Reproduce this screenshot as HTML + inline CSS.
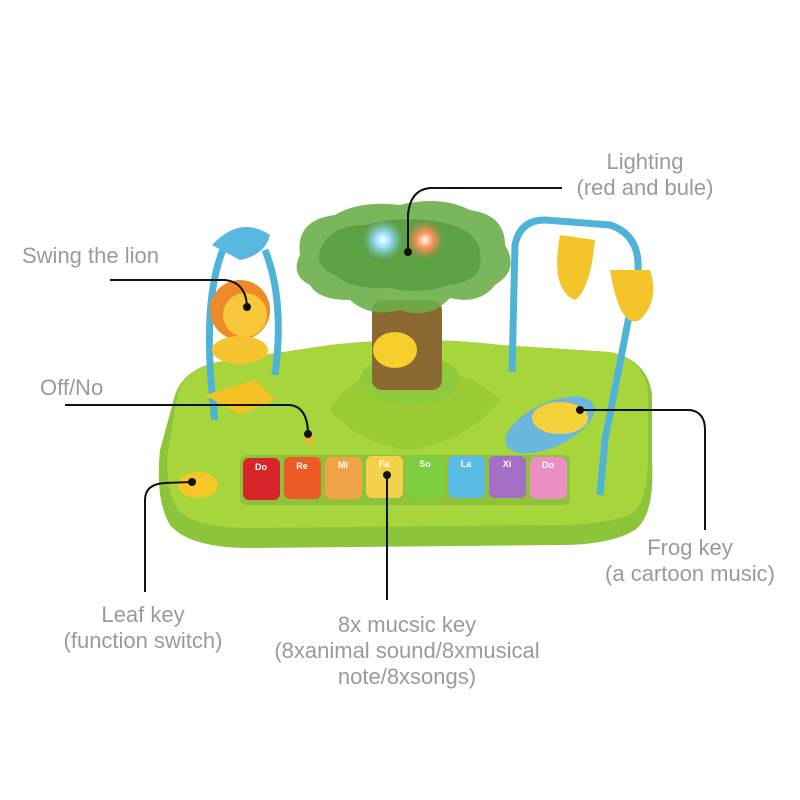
<!DOCTYPE html>
<html><head><meta charset="utf-8"><style>
html,body{margin:0;padding:0;background:#fff;}
body{width:800px;height:800px;position:relative;overflow:hidden;font-family:"Liberation Sans",sans-serif;}
.t{position:absolute;color:#9a9a9a;font-size:22px;line-height:26px;text-align:center;white-space:nowrap;}
svg{position:absolute;left:0;top:0;}
</style></head><body>
<svg width="800" height="800" viewBox="0 0 800 800">
<defs>
<radialGradient id="blu" cx="50%" cy="50%" r="50%"><stop offset="0" stop-color="#fff"/><stop offset="0.35" stop-color="#9fe0ff"/><stop offset="1" stop-color="#7ac4d8" stop-opacity="0"/></radialGradient>
<radialGradient id="red" cx="50%" cy="50%" r="50%"><stop offset="0" stop-color="#fff"/><stop offset="0.35" stop-color="#ff9a60"/><stop offset="1" stop-color="#e07040" stop-opacity="0"/></radialGradient>
</defs>
<!-- base -->
<path d="M175,395 Q185,365 230,360 L330,345 Q420,335 500,345 L610,352 Q648,360 652,395 L652,460 Q655,515 635,530 Q610,545 560,545 L250,548 Q190,548 170,525 Q155,500 160,450 Z" fill="#8cc43a"/>
<path d="M178,392 Q188,365 230,360 L330,345 Q420,335 500,345 L610,352 Q645,360 648,392 L648,455 Q648,505 630,515 Q600,525 560,525 L250,528 Q195,528 178,510 Q165,490 168,450 Z" fill="#a6d53c"/>
<!-- leaf decorations -->
<path d="M330,410 Q360,360 410,380 Q460,360 500,400 Q470,440 410,450 Q360,445 330,410 Z" fill="#9acb34"/>
<!-- keys -->
<g>
<rect x="240" y="455" width="330" height="50" rx="6" fill="#8dc23a"/>
<rect x="243" y="458" width="37" height="42" rx="6" fill="#d6262a"/>
<rect x="284" y="457" width="37" height="42" rx="6" fill="#ec5a25"/>
<rect x="325" y="457" width="37" height="42" rx="6" fill="#f0a347"/>
<rect x="366" y="456" width="37" height="42" rx="6" fill="#f5d04a"/>
<rect x="407" y="456" width="37" height="42" rx="6" fill="#7dcf3f"/>
<rect x="448" y="456" width="37" height="42" rx="6" fill="#5bbde6"/>
<rect x="489" y="456" width="37" height="42" rx="6" fill="#a56fc8"/>
<rect x="530" y="457" width="37" height="42" rx="6" fill="#ea8ec4"/>
<g fill="#fff" font-size="9" font-weight="bold" font-family="Liberation Sans, sans-serif" text-anchor="middle">
<text x="261" y="470">Do</text><text x="302" y="469">Re</text><text x="343" y="468">Mi</text><text x="384" y="467">Fa</text><text x="425" y="467">So</text><text x="466" y="467">La</text><text x="507" y="467">Xi</text><text x="548" y="468">Do</text>
</g>
</g>
<!-- leaf key -->
<ellipse cx="198" cy="485" rx="20" ry="13" fill="#f6c727"/>
<!-- off button -->
<circle cx="310" cy="440" r="5" fill="#e5b92a"/>
<!-- frog pad -->
<ellipse cx="550" cy="425" rx="48" ry="22" fill="#6ab6dc" transform="rotate(-25 550 425)"/>
<ellipse cx="560" cy="418" rx="28" ry="16" fill="#f4d33a"/>
<!-- left arch -->
<path d="M215,420 Q200,300 225,245" stroke="#4fb3d8" stroke-width="7" fill="none"/>
<path d="M265,250 Q285,300 275,375" stroke="#4fb3d8" stroke-width="7" fill="none"/>
<path d="M212,245 Q240,215 270,235 Q265,255 240,260 Z" fill="#5ab8e0"/>
<!-- lion -->
<path d="M205,395 L255,380 L275,400 L240,415 Z" fill="#f5c226"/>
<circle cx="240" cy="310" r="30" fill="#ee8a2a"/>
<circle cx="245" cy="315" r="22" fill="#f6c83a"/>
<ellipse cx="240" cy="350" rx="28" ry="14" fill="#f4c530"/>
<!-- right arch -->
<path d="M512,372 L515,245 Q520,220 545,220 L610,225 Q640,235 638,270 L605,440 L600,495" stroke="#4fb3d8" stroke-width="7" fill="none"/>
<path d="M560,235 Q550,290 575,300 Q590,290 595,240 Z" fill="#f5c32a"/>
<path d="M610,270 Q620,330 640,320 Q660,300 650,270 Z" fill="#f5c32a"/>
<!-- trunk -->
<ellipse cx="410" cy="380" rx="50" ry="25" fill="#8dcb3c"/>
<rect x="372" y="300" width="70" height="90" rx="10" fill="#8a6a32"/>
<ellipse cx="395" cy="350" rx="22" ry="18" fill="#f7cf2c"/>
<!-- canopy -->
<path d="M300,255 Q295,220 335,215 Q360,200 400,205 Q440,195 470,210 Q505,215 505,245 Q520,270 495,285 Q480,305 450,298 Q430,320 400,310 Q370,318 350,300 Q318,300 310,285 Q290,275 300,255 Z" fill="#6cae4a" opacity="0.9"/>
<path d="M320,250 Q330,225 365,225 Q400,215 440,222 Q480,230 480,255 Q485,280 450,285 Q420,295 390,288 Q350,290 335,275 Q315,268 320,250 Z" fill="#4f9a3c" opacity="0.7"/>
<circle cx="383" cy="240" r="20" fill="url(#blu)"/>
<circle cx="425" cy="240" r="20" fill="url(#red)"/>
<!-- connectors -->
<g stroke="#111" stroke-width="2" fill="none">
<path d="M562,188 L430,188 Q410,190 408,215 L408,250"/>
<path d="M110,280 L225,280 Q245,282 247,305"/>
<path d="M65,405 L290,405 Q307,407 308,432"/>
<path d="M145,592 L145,500 Q145,484 165,483 L192,482"/>
<path d="M387,600 L387,475"/>
<path d="M580,410 L690,410 Q705,412 705,430 L705,530"/>
</g>
<g fill="#111">
<circle cx="408" cy="252" r="4"/><circle cx="247" cy="307" r="4"/><circle cx="308" cy="434" r="4"/><circle cx="192" cy="482" r="4"/><circle cx="387" cy="475" r="4"/><circle cx="580" cy="410" r="4"/>
</g>
</svg>
<div class="t" style="left:545px;top:149px;width:200px;">Lighting<br>(red and bule)</div>
<div class="t" style="left:22px;top:243px;">Swing the lion</div>
<div class="t" style="left:40px;top:375px;">Off/No</div>
<div class="t" style="left:43px;top:602px;width:200px;">Leaf key<br>(function switch)</div>
<div class="t" style="left:252px;top:612px;width:310px;">8x mucsic key<br>(8xanimal sound/8xmusical<br>note/8xsongs)</div>
<div class="t" style="left:580px;top:535px;width:220px;">Frog key<br>(a cartoon music)</div>
</body></html>
